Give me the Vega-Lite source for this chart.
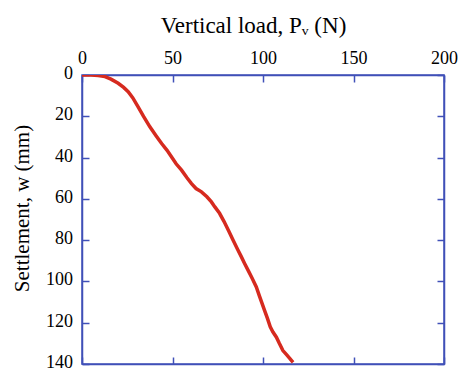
{
  "$schema": "https://vega.github.io/schema/vega-lite/v6.json",
  "autosize": "none",
  "width": 362,
  "height": 289,
  "padding": {"left": 82, "top": 75, "right": 20, "bottom": 7},
  "background": "white",
  "config": {
    "view": {"stroke": "#4050b8", "strokeWidth": 1.5},
    "font": "Liberation Serif",
    "axis": {
      "labelFont": "Liberation Serif",
      "titleFont": "Liberation Serif",
      "labelFontSize": 18,
      "titleFontSize": 22,
      "titleFontWeight": "normal",
      "labelColor": "black",
      "titleColor": "black",
      "domainColor": "#4050b8",
      "tickColor": "#4050b8",
      "domainWidth": 1.5,
      "tickWidth": 1.5,
      "grid": false
    }
  },
  "data": {
    "values": [
      {"load": 0, "settlement": 0},
      {"load": 5, "settlement": 0},
      {"load": 9, "settlement": 0.2},
      {"load": 12.7, "settlement": 0.8},
      {"load": 16, "settlement": 2},
      {"load": 20, "settlement": 4},
      {"load": 23, "settlement": 6},
      {"load": 25.5, "settlement": 8.1},
      {"load": 28, "settlement": 11},
      {"load": 31, "settlement": 15.4},
      {"load": 34, "settlement": 20},
      {"load": 37.5, "settlement": 25.1},
      {"load": 41, "settlement": 29.5},
      {"load": 44, "settlement": 33.2},
      {"load": 47, "settlement": 36.5},
      {"load": 49.5, "settlement": 39.7},
      {"load": 52, "settlement": 43},
      {"load": 55, "settlement": 46.1},
      {"load": 58, "settlement": 49.8},
      {"load": 60.5, "settlement": 52.6},
      {"load": 63, "settlement": 55},
      {"load": 66, "settlement": 56.6},
      {"load": 69, "settlement": 59},
      {"load": 71.5, "settlement": 61.5},
      {"load": 73.4, "settlement": 63.9},
      {"load": 76, "settlement": 67},
      {"load": 78.5, "settlement": 71},
      {"load": 81, "settlement": 75.5},
      {"load": 83.5, "settlement": 80.1},
      {"load": 86, "settlement": 84.5},
      {"load": 88, "settlement": 88},
      {"load": 89.9, "settlement": 91.4},
      {"load": 92, "settlement": 95},
      {"load": 94, "settlement": 98.5},
      {"load": 96.3, "settlement": 102.7},
      {"load": 98, "settlement": 107},
      {"load": 100.9, "settlement": 114.1},
      {"load": 102.5, "settlement": 118},
      {"load": 104, "settlement": 122},
      {"load": 105.5, "settlement": 124.5},
      {"load": 107.4, "settlement": 127},
      {"load": 109, "settlement": 130},
      {"load": 111, "settlement": 133.5},
      {"load": 113, "settlement": 135.5},
      {"load": 115, "settlement": 137.5},
      {"load": 116.6, "settlement": 139.2}
    ]
  },
  "layer": [
    {
      "mark": {"type": "line", "color": "#d62a1f", "strokeWidth": 3.5, "clip": true},
      "encoding": {
        "x": {
          "field": "load", "type": "quantitative",
          "scale": {"domain": [0, 200], "nice": false, "zero": false},
          "axis": {"orient": "top", "values": [0, 50, 100, 150, 200], "tickSize": -7, "labelPadding": 18.5, "labelBaseline": "alphabetic", "title": "Vertical load, Pᵥ (N)", "titleFontSize": 23, "titleBaseline": "alphabetic", "titleX": 171, "titleY": -43, "labelFlush": false}
        },
        "y": {
          "field": "settlement", "type": "quantitative",
          "scale": {"domain": [0, 140], "reverse": true, "nice": false, "zero": false},
          "axis": {"orient": "left", "values": [0, 20, 40, 60, 80, 100, 120, 140], "tickSize": -7, "labelPadding": 16.5, "labelOffset": -1.5, "title": "Settlement, w (mm)", "titleFontSize": 21, "titleX": -60, "titleY": 133, "titleBaseline": "middle", "labelFlush": false}
        }
      }
    },
    {
      "mark": {"type": "point", "opacity": 0},
      "encoding": {
        "x": {
          "field": "load", "type": "quantitative",
          "scale": {"domain": [0, 200], "nice": false, "zero": false},
          "axis": {"orient": "bottom", "values": [0, 50, 100, 150, 200], "tickSize": -7, "labels": false, "title": null}
        },
        "y": {
          "field": "settlement", "type": "quantitative",
          "scale": {"domain": [0, 140], "reverse": true, "nice": false, "zero": false},
          "axis": {"orient": "right", "values": [0, 20, 40, 60, 80, 100, 120, 140], "tickSize": -7, "labels": false, "title": null}
        }
      }
    }
  ],
  "resolve": {"axis": {"x": "independent", "y": "independent"}}
}
